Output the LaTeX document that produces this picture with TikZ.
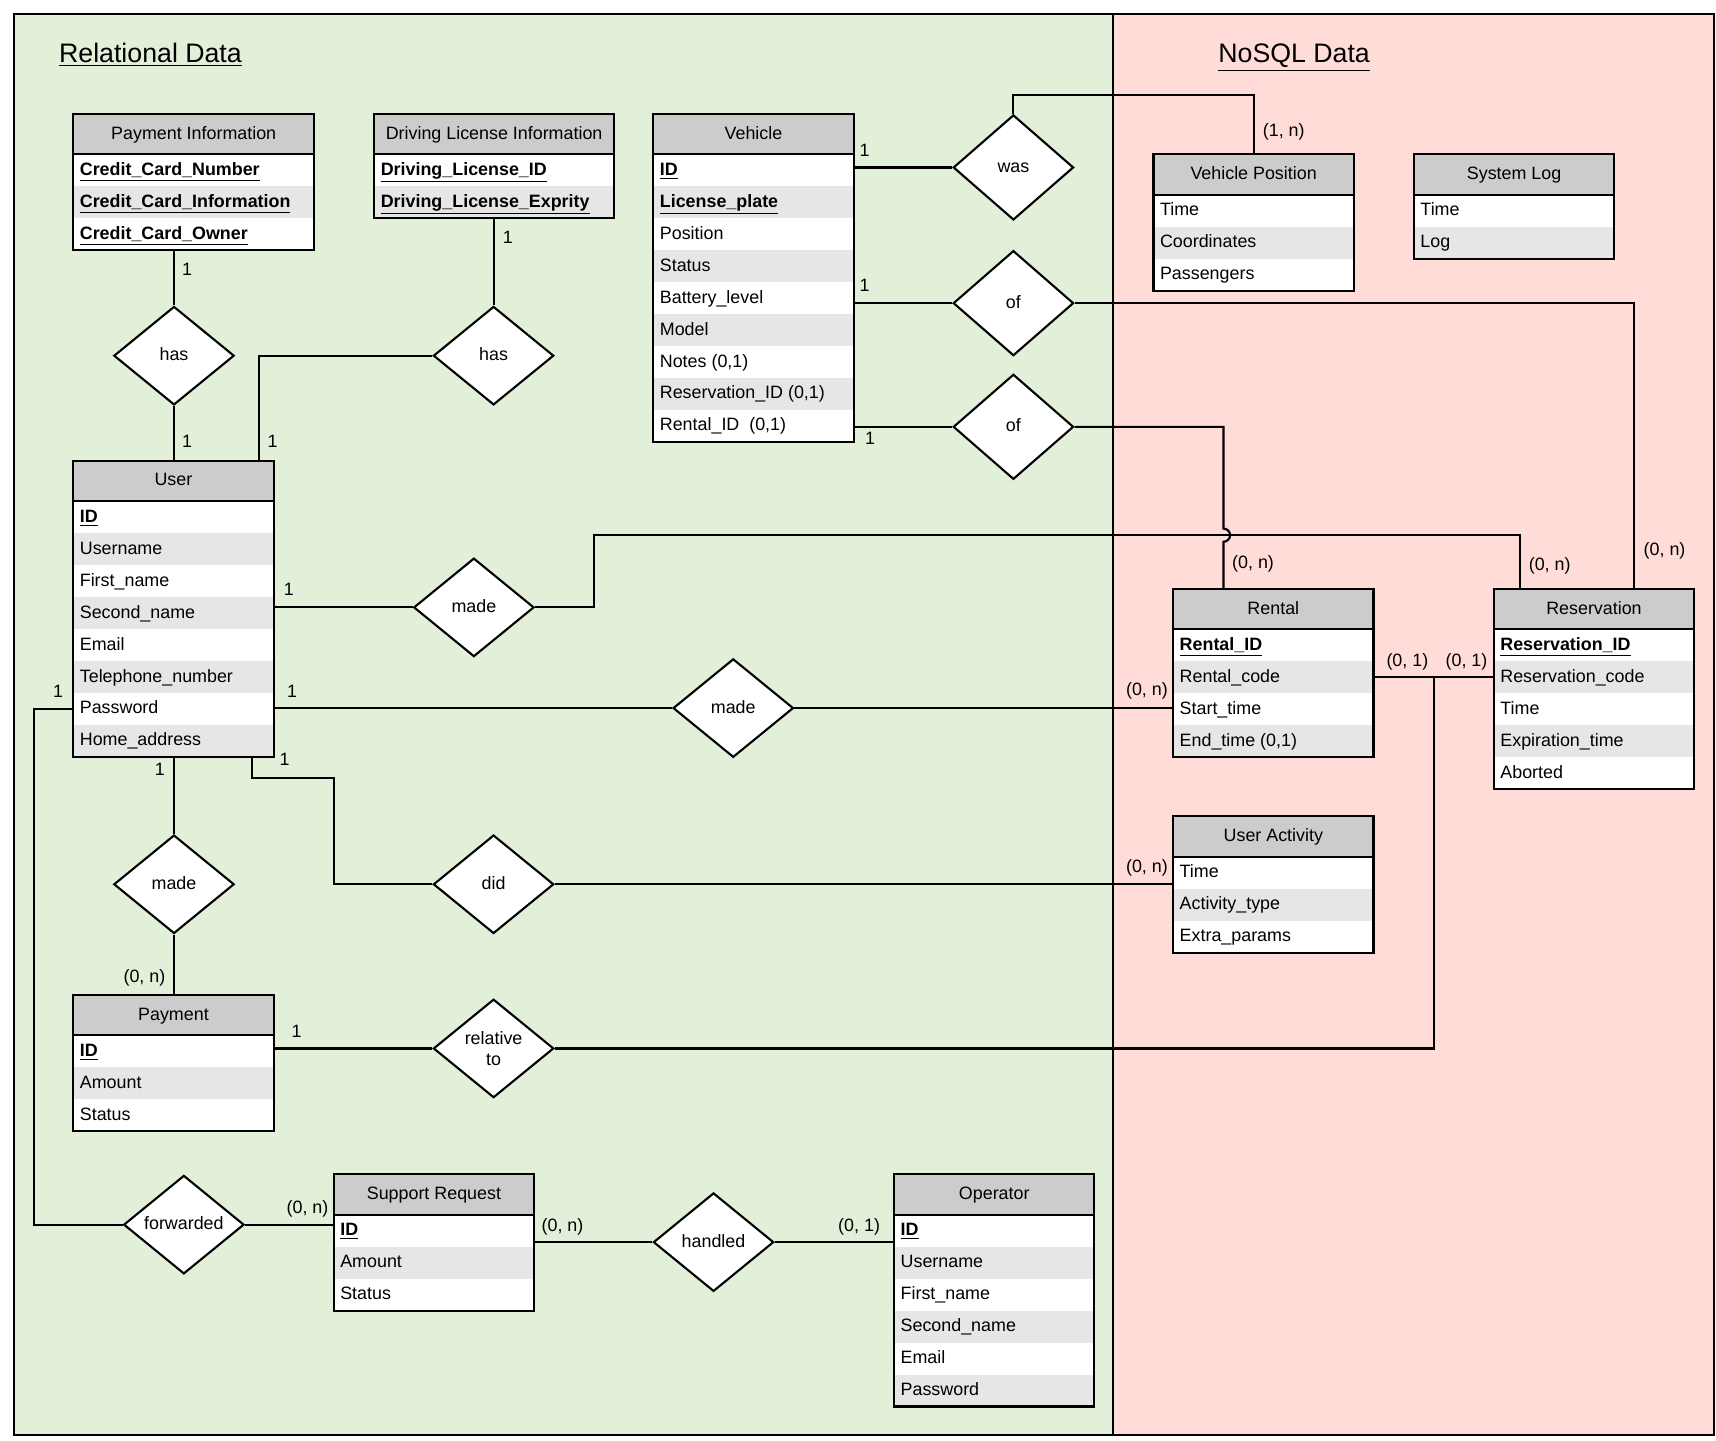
\documentclass[tikz,border=0pt]{standalone}
\usepackage{fontspec}
\setmainfont{Liberation Sans}
\usetikzlibrary{shapes.geometric,calc}
\definecolor{relgreen}{HTML}{E2F0D9}
\definecolor{nosqlpink}{HTML}{FFDCD8}
\definecolor{headgray}{HTML}{CCCCCC}
\definecolor{rowgray}{HTML}{E6E6E6}
\newcommand\key[1]{\underline{\textbf{#1}}}
% #1 name, #2 x, #3 y, #4 width, #5 rows, #6 title, #7 row list
\newcommand\erentity[7]{%
  \pgfmathsetmacro\entH{37+#5*29.2}%
  \node[entbox, minimum width=#4*0.02cm, minimum height=\entH*0.02cm, anchor=north west] (#1) at (#2,#3) {};
  \foreach \t [count=\i] in {#7}{%
    \pgfmathsetmacro\ry{#3+37+(\i-0.5)*29.2}%
    \ifodd\i\else
      \fill[rowgray] (#2,\ry-14.6) rectangle (#2+#4,\ry+14.6);
    \fi
    \node[rowtext, anchor=west] (#1-\i) at (#2+5,\ry) {\t};
  }%
  \node[entbox, fill=headgray, minimum width=#4*0.02cm, minimum height=0.74cm, anchor=north west] (#1-h) at (#2,#3) {#6};
  \draw[line width=1.1pt] (#1.north west) rectangle (#1.south east);
}
\newcommand\lab[3]{\node[lbl] (#1) at (#2) {#3};}
\begin{document}
\begin{tikzpicture}[x=0.02cm, y=-0.02cm, line width=1.1pt,
  every node/.style={font=\fontsize{9.3pt}{11pt}\selectfont, text height=6.6pt, text depth=1.4pt},
  entbox/.style={draw, fill=white, inner sep=0pt, outer sep=0pt, line width=1.1pt},
  rowtext/.style={inner sep=0pt},
  lbl/.style={inner sep=0pt},
  reln/.style={diamond, draw, fill=white, line width=1.1pt, inner sep=0pt, minimum width=2.2cm, minimum height=1.8cm, align=center},
  relt/.style={reln, minimum height=1.92cm},
  title/.style={font=\fontsize{13.9pt}{16pt}\selectfont, inner sep=0pt, text height=10pt, text depth=2pt}]
\useasboundingbox (0,0) rectangle (1568,1316);
% background regions
\fill[white] (0,0) rectangle (1568,1316);
\fill[relgreen] (13,13) rectangle (1017,1311);
\fill[nosqlpink] (1017,13) rectangle (1566,1311);
\draw (13,13) rectangle (1566,1311);
\draw (1017,13) -- (1017,1311);
% titles
\node[title] (reltitle) at (137.5,50) {\underline{Relational Data}};
\node[title] (nosqltitle) at (1182.5,50) {\underline{NoSQL Data}};
% entities
\erentity{payinfo}{67}{104}{220}{3}{Payment Information}{\key{Credit\_Card\_Number},\key{Credit\_Card\_Information},\key{Credit\_Card\_Owner}}
\erentity{dli}{342}{104}{219}{2}{Driving License Information}{\key{Driving\_License\_ID},\key{Driving\_License\_Exprity}}
\erentity{vehicle}{597}{104}{183}{9}{Vehicle}{\key{ID},\key{License\_plate},Position,Status,Battery\_level,Model,{Notes (0,1)},{Reservation\_ID (0,1)},{Rental\_ID\ \ (0,1)}}
\erentity{vpos}{1054}{141}{183}{3}{Vehicle Position}{Time,Coordinates,Passengers}
\erentity{syslog}{1292}{141}{183}{2}{System Log}{Time,Log}
\erentity{user}{67}{421}{183}{8}{User}{\key{ID},Username,First\_name,Second\_name,Email,Telephone\_number,Password,Home\_address}
\erentity{rental}{1072}{538}{183}{4}{Rental}{\key{Rental\_ID},Rental\_code,Start\_time,{End\_time (0,1)}}
\erentity{resv}{1365}{538}{183}{5}{Reservation}{\key{Reservation\_ID},Reservation\_code,Time,Expiration\_time,Aborted}
\erentity{uact}{1072}{746}{183}{3}{User Activity}{Time,Activity\_type,Extra\_params}
\erentity{payment}{67}{909}{183}{3}{Payment}{\key{ID},Amount,Status}
\erentity{sreq}{305}{1073}{183}{3}{Support Request}{\key{ID},Amount,Status}
\erentity{oper}{817}{1073}{183}{6}{Operator}{\key{ID},Username,First\_name,Second\_name,Email,Password}
% relationships
\node[reln] (has1) at (159,325) {has};
\node[reln] (has2) at (451,325) {has};
\node[relt] (was) at (926,153) {was};
\node[relt] (of1) at (926,277) {of};
\node[relt] (of2) at (926,390) {of};
\node[reln] (made1) at (433,555) {made};
\node[reln] (made2) at (670,647) {made};
\node[reln] (made3) at (159,808) {made};
\node[reln] (did) at (451,808) {did};
\node[reln, text height=, text depth=] (rel) at (451,958) {relative\\to};
\node[reln] (fwd) at (168,1119) {forwarded};
\node[reln] (handled) at (652,1135) {handled};
% helper coordinates on entity borders
\coordinate (uTop) at ([xshift=-0.26cm]user.north east);
\coordinate (resvTopA) at ([xshift=0.48cm]resv.north west);
\coordinate (resvTopB) at ([xshift=-1.1cm]resv.north east);
\coordinate (rentTop) at ([xshift=0.92cm]rental.north west);
\coordinate (uBot) at ([xshift=-0.4cm]user.south east);
\coordinate (junc) at ($(rental.east |- rental-2)!0.5!(resv.west |- rental-2)$);
% connectors
\draw (has1.north |- payinfo.south) -- (has1.north);
\draw (has1.south) -- (has1.south |- user.north);
\draw (has2.north |- dli.south) -- (has2.north);
\draw (has2.west) -| (uTop);
\draw (vehicle.east |- was.west) -- (was.west);
\draw (was.north) -- ++(0,-17) -| (vpos.north);
\draw (vehicle.east |- of1.west) -- (of1.west);
\draw (of1.east) -| (resvTopB);
\draw (vehicle.east |- of2.west) -- (of2.west);
\draw (user.east |- made1.west) -- (made1.west);
\draw (made1.east) -- ++(54,0) -- ++(0,-66) -| (resvTopA);
\draw (of2.east) -| ($(rentTop)+(0,-55)$) arc[start angle=-90, end angle=90, radius=6] -- (rentTop);
\draw (user.east |- made2.west) -- (made2.west);
\draw (made2.east) -- (rental.west |- made2.east);
\draw (rental.east |- rental-2) -- (resv.west |- rental-2);
\draw (junc) |- (rel.east);
\draw (rel.west) -- (payment.east |- rel.west);
\draw (made3.north |- user.south) -- (made3.north);
\draw (made3.south) -- (made3.south |- payment.north);
\draw (uBot) -- ++(0,19.5) -- ++(75,0) |- (did.west);
\draw (did.east) -- (uact.west |- did.east);
\draw (user.west |- user-7) -- ++(-36,0) |- (fwd.west);
\draw (fwd.east) -- (sreq.west |- fwd.east);
\draw (sreq.east |- handled.west) -- (handled.west);
\draw (handled.east) -- (oper.west |- handled.east);
% cardinality labels
\lab{l1}{171,247}{1}
\lab{l2}{171,404}{1}
\lab{l3}{249,404}{1}
\lab{l4}{464,218}{1}
\lab{l5}{790,138}{1}
\lab{l6}{1173,120}{(1, n)}
\lab{l7}{790,262}{1}
\lab{l8}{795,402}{1}
\lab{l9}{1521,503}{(0, n)}
\lab{l10}{1145,515}{(0, n)}
\lab{l11}{1416,517}{(0, n)}
\lab{l12}{264,540}{1}
\lab{l13}{267,633}{1}
\lab{l14}{1048,631}{(0, n)}
\lab{l15}{1286,604}{(0, 1)}
\lab{l16}{1340,604}{(0, 1)}
\lab{l17}{53,633}{1}
\lab{l18}{146,704}{1}
\lab{l19}{260,695}{1}
\lab{l20}{132,893}{(0, n)}
\lab{l21}{1048,793}{(0, n)}
\lab{l22}{271,943}{1}
\lab{l23}{281,1104}{(0, n)}
\lab{l24}{514,1121}{(0, n)}
\lab{l25}{785,1121}{(0, 1)}
\end{tikzpicture}
\end{document}
